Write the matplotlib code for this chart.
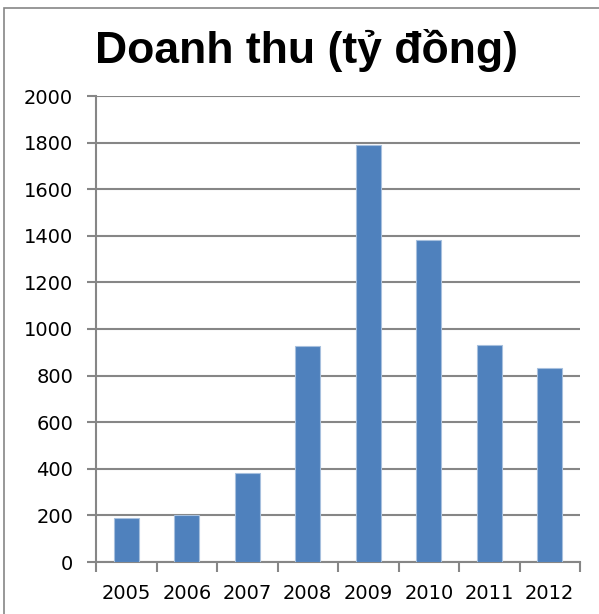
import matplotlib
matplotlib.use("Agg")
import matplotlib.pyplot as plt
from matplotlib.patches import Rectangle

years = ["2005", "2006", "2007", "2008", "2009", "2010", "2011", "2012"]
revenue = [190, 200, 384, 925, 1790, 1383, 932, 832]
yticks = [0, 200, 400, 600, 800, 1000, 1200, 1400, 1600, 1800, 2000]
title = "Doanh thu (tỷ đồng)"

fig = plt.figure(figsize=(5.99, 6.14), dpi=100)
ax = fig.add_axes([96/599, 52/614, 484/599, 466/614])

x = list(range(len(years)))
ax.bar(x, revenue, width=0.41, color="#4F81BD", edgecolor="#A7C0DE", linewidth=0.8, zorder=3)

ax.set_xlim(-0.5, len(years) - 0.5)
ax.set_ylim(0, 2000)
ax.set_yticks(yticks)
ax.set_yticklabels([str(v) for v in yticks], fontsize=14, family="DejaVu Sans")
ax.yaxis.grid(True, color="#868686", linewidth=1.5, zorder=0)
ax.set_axisbelow(True)

ax.set_xticks([i - 0.5 for i in range(len(years) + 1)])
ax.set_xticklabels([])
ax.set_xticks(x, minor=True)
ax.set_xticklabels(years, minor=True, fontsize=14, family="DejaVu Sans")
ax.tick_params(axis="x", which="minor", length=0, pad=16)
ax.tick_params(axis="x", which="major", length=7, width=1.5, color="#868686", direction="out")
ax.tick_params(axis="y", length=6.5, width=1.5, color="#868686", direction="out", pad=10)

for s in ["top", "right"]:
    ax.spines[s].set_visible(False)
for s in ["left", "bottom"]:
    ax.spines[s].set_color("#868686")
    ax.spines[s].set_linewidth(1.5)

fig.text(307/599, 1 - 50/614, title, ha="center", va="center",
         fontsize=32, fontweight="bold", family="Liberation Sans")

fig.patches.append(Rectangle((4/599, -0.1), 1.2, 1.1 - 8/614, transform=fig.transFigure,
                             fill=False, edgecolor="#868686", linewidth=1.2))

fig.savefig("out.png", dpi=100)
